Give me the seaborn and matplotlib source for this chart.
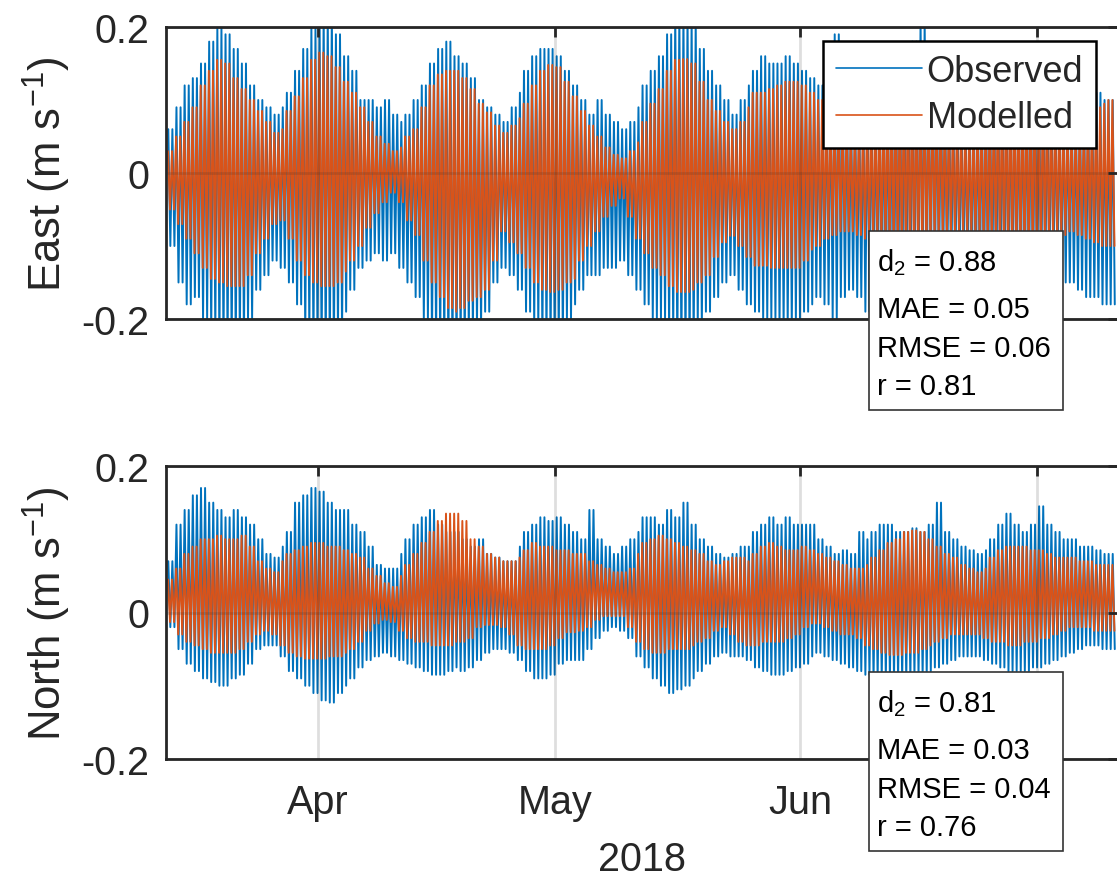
import numpy as np
import pandas as pd
import matplotlib
matplotlib.use("Agg")
import matplotlib.pyplot as plt
import matplotlib.dates as mdates
from matplotlib.ticker import FuncFormatter
from matplotlib.patches import Rectangle
import seaborn as sns

# ---------------- data (daily tidal envelope, m/s) ----------------
start_date = "2018-03-13"
half_tide_days = 12.42 / 24 / 2   # spacing of successive flood/ebb extremes
obs_lag_days = 0.04               # observed extremes plotted slightly offset from modelled

east_mod_hi = [0.03, 0.05, 0.07, 0.09, 0.12, 0.14, 0.155, 0.15, 0.13, 0.115, 0.10, 0.085, 0.07, 0.055, 0.06,
               0.085, 0.105, 0.13, 0.155, 0.165, 0.16, 0.145, 0.125, 0.11, 0.09, 0.07, 0.05, 0.04, 0.03, 0.035,
               0.05, 0.06, 0.09, 0.12, 0.135, 0.14, 0.14, 0.13, 0.115, 0.095, 0.083, 0.065, 0.055, 0.065, 0.075,
               0.095, 0.12, 0.14, 0.148, 0.145, 0.125, 0.105, 0.085, 0.065, 0.05, 0.035, 0.025, 0.02, 0.03, 0.042,
               0.07, 0.095, 0.115, 0.14, 0.155, 0.156, 0.15, 0.125, 0.10, 0.085, 0.07, 0.06, 0.07, 0.09, 0.11,
               0.11, 0.115, 0.12, 0.125, 0.125, 0.12, 0.11, 0.10, 0.09, 0.08, 0.07, 0.06, 0.065, 0.075, 0.085,
               0.095, 0.105, 0.11, 0.115, 0.115, 0.11, 0.10, 0.09, 0.08, 0.07, 0.065, 0.065, 0.075, 0.085, 0.095,
               0.105, 0.11, 0.115, 0.115, 0.11, 0.10, 0.09, 0.08, 0.07, 0.065, 0.07, 0.08, 0.09, 0.095, 0.10]
east_mod_lo = [-0.05, -0.07, -0.09, -0.11, -0.13, -0.145, -0.15, -0.155, -0.155, -0.155, -0.14, -0.11, -0.09, -0.07, -0.065,
               -0.09, -0.12, -0.14, -0.15, -0.155, -0.155, -0.15, -0.135, -0.12, -0.10, -0.075, -0.055, -0.04, -0.027, -0.04,
               -0.065, -0.085, -0.12, -0.15, -0.17, -0.185, -0.19, -0.185, -0.175, -0.17, -0.16, -0.12, -0.08, -0.095, -0.11,
               -0.13, -0.15, -0.16, -0.163, -0.16, -0.15, -0.145, -0.12, -0.10, -0.08, -0.06, -0.045, -0.035, -0.06, -0.09,
               -0.11, -0.13, -0.14, -0.155, -0.163, -0.163, -0.16, -0.15, -0.14, -0.115, -0.095, -0.086, -0.10, -0.115, -0.127,
               -0.127, -0.13, -0.13, -0.13, -0.13, -0.12, -0.105, -0.10, -0.09, -0.085, -0.08, -0.08, -0.085, -0.09, -0.095,
               -0.10, -0.11, -0.115, -0.12, -0.12, -0.115, -0.105, -0.095, -0.09, -0.085, -0.08, -0.085, -0.09, -0.10, -0.105,
               -0.11, -0.115, -0.12, -0.12, -0.115, -0.11, -0.10, -0.09, -0.085, -0.08, -0.085, -0.09, -0.095, -0.10, -0.10]
east_obs_hi = [0.06, 0.09, 0.12, 0.13, 0.15, 0.18, 0.20, 0.19, 0.17, 0.15, 0.12, 0.10, 0.09, 0.08, 0.09,
               0.11, 0.14, 0.17, 0.20, 0.22, 0.22, 0.19, 0.16, 0.14, 0.10, 0.10, 0.09, 0.10, 0.08, 0.07,
               0.08, 0.10, 0.12, 0.15, 0.17, 0.18, 0.16, 0.15, 0.13, 0.10, 0.09, 0.08, 0.07, 0.09, 0.11,
               0.14, 0.16, 0.17, 0.17, 0.16, 0.14, 0.12, 0.10, 0.08, 0.10, 0.08, 0.07, 0.06, 0.07, 0.09,
               0.12, 0.14, 0.16, 0.19, 0.22, 0.22, 0.21, 0.17, 0.14, 0.12, 0.10, 0.08, 0.10, 0.12, 0.14,
               0.16, 0.15, 0.15, 0.16, 0.15, 0.14, 0.13, 0.12, 0.14, 0.19, 0.12, 0.10, 0.10, 0.11, 0.12,
               0.13, 0.14, 0.15, 0.17, 0.18, 0.21, 0.17, 0.13, 0.11, 0.10, 0.09, 0.10, 0.11, 0.12, 0.13,
               0.14, 0.15, 0.15, 0.14, 0.14, 0.13, 0.12, 0.10, 0.09, 0.09, 0.10, 0.11, 0.11, 0.10, 0.10]
east_obs_lo = [-0.10, -0.15, -0.18, -0.17, -0.20, -0.22, -0.24, -0.24, -0.24, -0.23, -0.20, -0.16, -0.14, -0.12, -0.13,
               -0.15, -0.18, -0.22, -0.24, -0.25, -0.25, -0.22, -0.19, -0.16, -0.13, -0.12, -0.11, -0.12, -0.11, -0.13,
               -0.15, -0.17, -0.20, -0.23, -0.24, -0.25, -0.25, -0.24, -0.22, -0.21, -0.19, -0.15, -0.13, -0.14, -0.16,
               -0.19, -0.21, -0.23, -0.24, -0.23, -0.20, -0.18, -0.16, -0.14, -0.14, -0.13, -0.13, -0.12, -0.14, -0.16,
               -0.18, -0.20, -0.20, -0.22, -0.25, -0.25, -0.24, -0.21, -0.19, -0.17, -0.15, -0.14, -0.16, -0.18, -0.19,
               -0.20, -0.20, -0.21, -0.21, -0.20, -0.19, -0.18, -0.17, -0.18, -0.20, -0.17, -0.16, -0.17, -0.19, -0.19,
               -0.20, -0.21, -0.21, -0.21, -0.20, -0.19, -0.17, -0.16, -0.15, -0.15, -0.15, -0.16, -0.17, -0.18, -0.19,
               -0.20, -0.20, -0.20, -0.19, -0.18, -0.17, -0.16, -0.15, -0.15, -0.15, -0.16, -0.17, -0.17, -0.18, -0.18]

north_mod_hi = [0.045, 0.06, 0.08, 0.09, 0.10, 0.10, 0.105, 0.10, 0.10, 0.105, 0.09, 0.07, 0.06, 0.055, 0.07,
                0.08, 0.085, 0.09, 0.095, 0.095, 0.09, 0.09, 0.085, 0.08, 0.075, 0.06, 0.05, 0.04, 0.035, 0.05,
                0.065, 0.08, 0.095, 0.11, 0.125, 0.135, 0.135, 0.125, 0.10, 0.09, 0.08, 0.075, 0.07, 0.07, 0.075,
                0.085, 0.095, 0.09, 0.09, 0.085, 0.085, 0.08, 0.08, 0.07, 0.065, 0.06, 0.055, 0.055, 0.06, 0.08,
                0.095, 0.10, 0.105, 0.10, 0.095, 0.09, 0.085, 0.08, 0.07, 0.065, 0.07, 0.075, 0.075, 0.07, 0.08,
                0.09, 0.095, 0.09, 0.085, 0.085, 0.09, 0.085, 0.08, 0.075, 0.07, 0.065, 0.06, 0.06, 0.065, 0.075,
                0.085, 0.095, 0.10, 0.11, 0.112, 0.11, 0.10, 0.09, 0.08, 0.075, 0.065, 0.06, 0.055, 0.06, 0.075,
                0.085, 0.09, 0.09, 0.09, 0.085, 0.085, 0.08, 0.075, 0.075, 0.075, 0.07, 0.07, 0.065, 0.065, 0.065]
north_mod_lo = [-0.013, -0.03, -0.04, -0.045, -0.05, -0.055, -0.055, -0.055, -0.055, -0.05, -0.04, -0.03, -0.025, -0.03, -0.045,
                -0.055, -0.06, -0.063, -0.063, -0.063, -0.06, -0.06, -0.055, -0.05, -0.04, -0.025, -0.015, -0.01, -0.013, -0.025,
                -0.035, -0.04, -0.04, -0.045, -0.045, -0.045, -0.04, -0.04, -0.035, -0.02, -0.017, -0.017, -0.02, -0.03, -0.045,
                -0.05, -0.05, -0.05, -0.045, -0.035, -0.027, -0.027, -0.025, -0.02, -0.01, -0.005, -0.005, -0.005, -0.02, -0.04,
                -0.05, -0.055, -0.055, -0.05, -0.05, -0.05, -0.045, -0.04, -0.035, -0.025, -0.02, -0.03, -0.04, -0.045, -0.045,
                -0.04, -0.04, -0.04, -0.035, -0.03, -0.02, -0.015, -0.015, -0.02, -0.025, -0.03, -0.03, -0.035, -0.045, -0.05,
                -0.055, -0.058, -0.058, -0.055, -0.055, -0.05, -0.045, -0.04, -0.035, -0.03, -0.03, -0.03, -0.03, -0.035, -0.04,
                -0.04, -0.045, -0.045, -0.04, -0.04, -0.035, -0.035, -0.03, -0.025, -0.02, -0.02, -0.02, -0.025, -0.025, -0.025]
north_obs_hi = [0.07, 0.12, 0.14, 0.16, 0.17, 0.15, 0.14, 0.13, 0.14, 0.13, 0.12, 0.10, 0.08, 0.075, 0.09,
                0.11, 0.15, 0.16, 0.17, 0.165, 0.15, 0.14, 0.14, 0.12, 0.11, 0.09, 0.065, 0.06, 0.06, 0.08,
                0.10, 0.12, 0.13, 0.14, 0.12, 0.11, 0.11, 0.10, 0.09, 0.10, 0.08, 0.075, 0.07, 0.07, 0.09,
                0.11, 0.12, 0.13, 0.125, 0.13, 0.12, 0.11, 0.10, 0.14, 0.10, 0.09, 0.08, 0.09, 0.10, 0.11,
                0.13, 0.13, 0.12, 0.14, 0.13, 0.15, 0.12, 0.10, 0.09, 0.08, 0.075, 0.08, 0.09, 0.09, 0.11,
                0.12, 0.13, 0.12, 0.13, 0.12, 0.12, 0.12, 0.10, 0.09, 0.08, 0.085, 0.08, 0.11, 0.10, 0.11,
                0.12, 0.12, 0.11, 0.11, 0.115, 0.11, 0.12, 0.15, 0.11, 0.10, 0.09, 0.085, 0.08, 0.085, 0.10,
                0.12, 0.135, 0.12, 0.11, 0.12, 0.145, 0.12, 0.11, 0.10, 0.10, 0.09, 0.09, 0.085, 0.08, 0.08]
north_obs_lo = [-0.02, -0.05, -0.07, -0.08, -0.09, -0.095, -0.10, -0.10, -0.09, -0.085, -0.07, -0.05, -0.045, -0.045, -0.06,
                -0.08, -0.09, -0.10, -0.11, -0.12, -0.123, -0.11, -0.10, -0.09, -0.075, -0.065, -0.06, -0.055, -0.06, -0.065,
                -0.07, -0.075, -0.08, -0.085, -0.085, -0.08, -0.075, -0.08, -0.075, -0.065, -0.055, -0.05, -0.05, -0.055, -0.065,
                -0.08, -0.09, -0.09, -0.085, -0.07, -0.065, -0.065, -0.065, -0.05, -0.035, -0.025, -0.02, -0.025, -0.035, -0.06,
                -0.075, -0.09, -0.10, -0.11, -0.105, -0.10, -0.09, -0.08, -0.07, -0.06, -0.055, -0.06, -0.06, -0.065, -0.075,
                -0.08, -0.085, -0.085, -0.08, -0.075, -0.07, -0.06, -0.055, -0.06, -0.065, -0.07, -0.075, -0.08, -0.085, -0.09,
                -0.09, -0.09, -0.09, -0.09, -0.085, -0.085, -0.08, -0.075, -0.07, -0.065, -0.06, -0.06, -0.06, -0.065, -0.07,
                -0.075, -0.08, -0.08, -0.08, -0.075, -0.075, -0.07, -0.065, -0.06, -0.055, -0.05, -0.045, -0.045, -0.05, -0.05]

series_names = ["Observed", "Modelled"]
series_colors = ["#0072BD", "#D95319"]
y_ticks = [-0.2, 0, 0.2]
y_tick_labels = ["-0.2", "0", "0.2"]
month_labels = {4: "Apr", 5: "May", 6: "Jun"}   # July tick sits under the stats box
panel_labels = ["East (m s$^{\\mathregular{-1}}$)", "North (m s$^{\\mathregular{-1}}$)"]
stats_east = [("d$_{\\mathregular{2}}$", "0.88"), ("MAE", "0.05"), ("RMSE", "0.06"), ("r", "0.81")]
stats_north = [("d$_{\\mathregular{2}}$", "0.81"), ("MAE", "0.03"), ("RMSE", "0.04"), ("r", "0.76")]
year_label = "2018"


def tide_frame(hi, lo, name, lag=0.0):
    t = np.arange(0, len(hi), half_tide_days)
    day = t.astype(int)
    vals = np.where(np.arange(len(t)) % 2 == 0, np.asarray(hi)[day], np.asarray(lo)[day])
    times = pd.Timestamp(start_date) + pd.to_timedelta(t + lag, unit="D")
    return pd.DataFrame({"time": times, "value": vals, "series": name})


east_df = pd.concat([tide_frame(east_obs_hi, east_obs_lo, "Observed", obs_lag_days),
                     tide_frame(east_mod_hi, east_mod_lo, "Modelled")], ignore_index=True)
north_df = pd.concat([tide_frame(north_obs_hi, north_obs_lo, "Observed", obs_lag_days),
                      tide_frame(north_mod_hi, north_mod_lo, "Modelled")], ignore_index=True)

# ---------------- style ----------------
sns.set_theme(style="white")
plt.rcParams["font.family"] = ["Liberation Sans", "DejaVu Sans"]
plt.rcParams["mathtext.fontset"] = "custom"
plt.rcParams["mathtext.rm"] = "Liberation Sans"
plt.rcParams["mathtext.it"] = "Liberation Sans"
plt.rcParams["axes.unicode_minus"] = False

W, H = 1117, 878
fig = plt.figure(figsize=(W / 100, H / 100), dpi=100)
fig.patch.set_facecolor("white")

ax_left, ax_right = 166, 1118
panels = [(28, 320), (467, 760)]
dark = "#262626"
xmin = pd.Timestamp("2018-03-12 18:00")
xmax = pd.Timestamp("2018-07-11 06:00")


def month_fmt(x, pos=None):
    return month_labels.get(mdates.num2date(x).month, "")


axes = []
for (top, bot), df, ylab in zip(panels, [east_df, north_df], panel_labels):
    ax = fig.add_axes([ax_left / W, 1 - bot / H, (ax_right - ax_left) / W, (bot - top) / H])
    sns.lineplot(data=df, x="time", y="value", hue="series", hue_order=series_names,
                 palette=series_colors, estimator=None, sort=False, linewidth=1.4,
                 legend=False, ax=ax)
    ax.set_xlim(xmin, xmax)
    ax.set_ylim(-0.2, 0.2)
    ax.set_yticks(y_ticks)
    ax.set_yticklabels(y_tick_labels)
    ax.xaxis.set_major_locator(mdates.MonthLocator())
    ax.xaxis.set_major_formatter(FuncFormatter(month_fmt))
    ax.set_axisbelow(False)
    ax.grid(True, color=dark, alpha=0.15, linewidth=2.0)
    for s in ax.spines.values():
        s.set_color(dark)
        s.set_linewidth(2.0)
    ax.tick_params(direction="in", length=7, width=2.0, color=dark, labelcolor=dark,
                   labelsize=28.5, top=True, right=True, pad=12)
    ax.set_ylabel(ylab, fontsize=31.5, color=dark, labelpad=6)
    ax.set_xlabel("")
    axes.append(ax)

axes[0].tick_params(labelbottom=False)
axes[1].tick_params(axis="x", pad=17)
axes[1].set_xlabel(year_label, fontsize=28.5, color=dark, labelpad=14)

# legend
lines = axes[0].get_lines()[:2]
leg = axes[0].legend(lines, series_names, loc="upper left",
                     bbox_to_anchor=(823 / W, 1 - 42 / H), bbox_transform=fig.transFigure,
                     borderaxespad=0, fontsize=26, frameon=True, fancybox=False,
                     handlelength=2.4, handletextpad=0.12, labelspacing=0.32,
                     borderpad=0.35)
leg.get_frame().set_edgecolor("black")
leg.get_frame().set_linewidth(1.8)
leg.get_frame().set_alpha(1)
for lh in leg.get_lines():
    lh.set_linewidth(1.2)

# statistics boxes
for box_top, stats in [(232, stats_east), (673, stats_north)]:
    fig.add_artist(Rectangle((869 / W, 1 - (box_top + 179) / H), 194 / W, 179 / H,
                             transform=fig.transFigure, facecolor="white",
                             edgecolor="#333333", linewidth=1.2, zorder=5))
    for (name, val), off in zip(stats, [39, 86, 125, 163]):
        fig.text(877 / W, 1 - (box_top + off) / H, f"{name} = {val}", fontsize=21,
                 color="black", va="baseline", ha="left", zorder=6)

fig.savefig("out.png", dpi=100, facecolor="white")
